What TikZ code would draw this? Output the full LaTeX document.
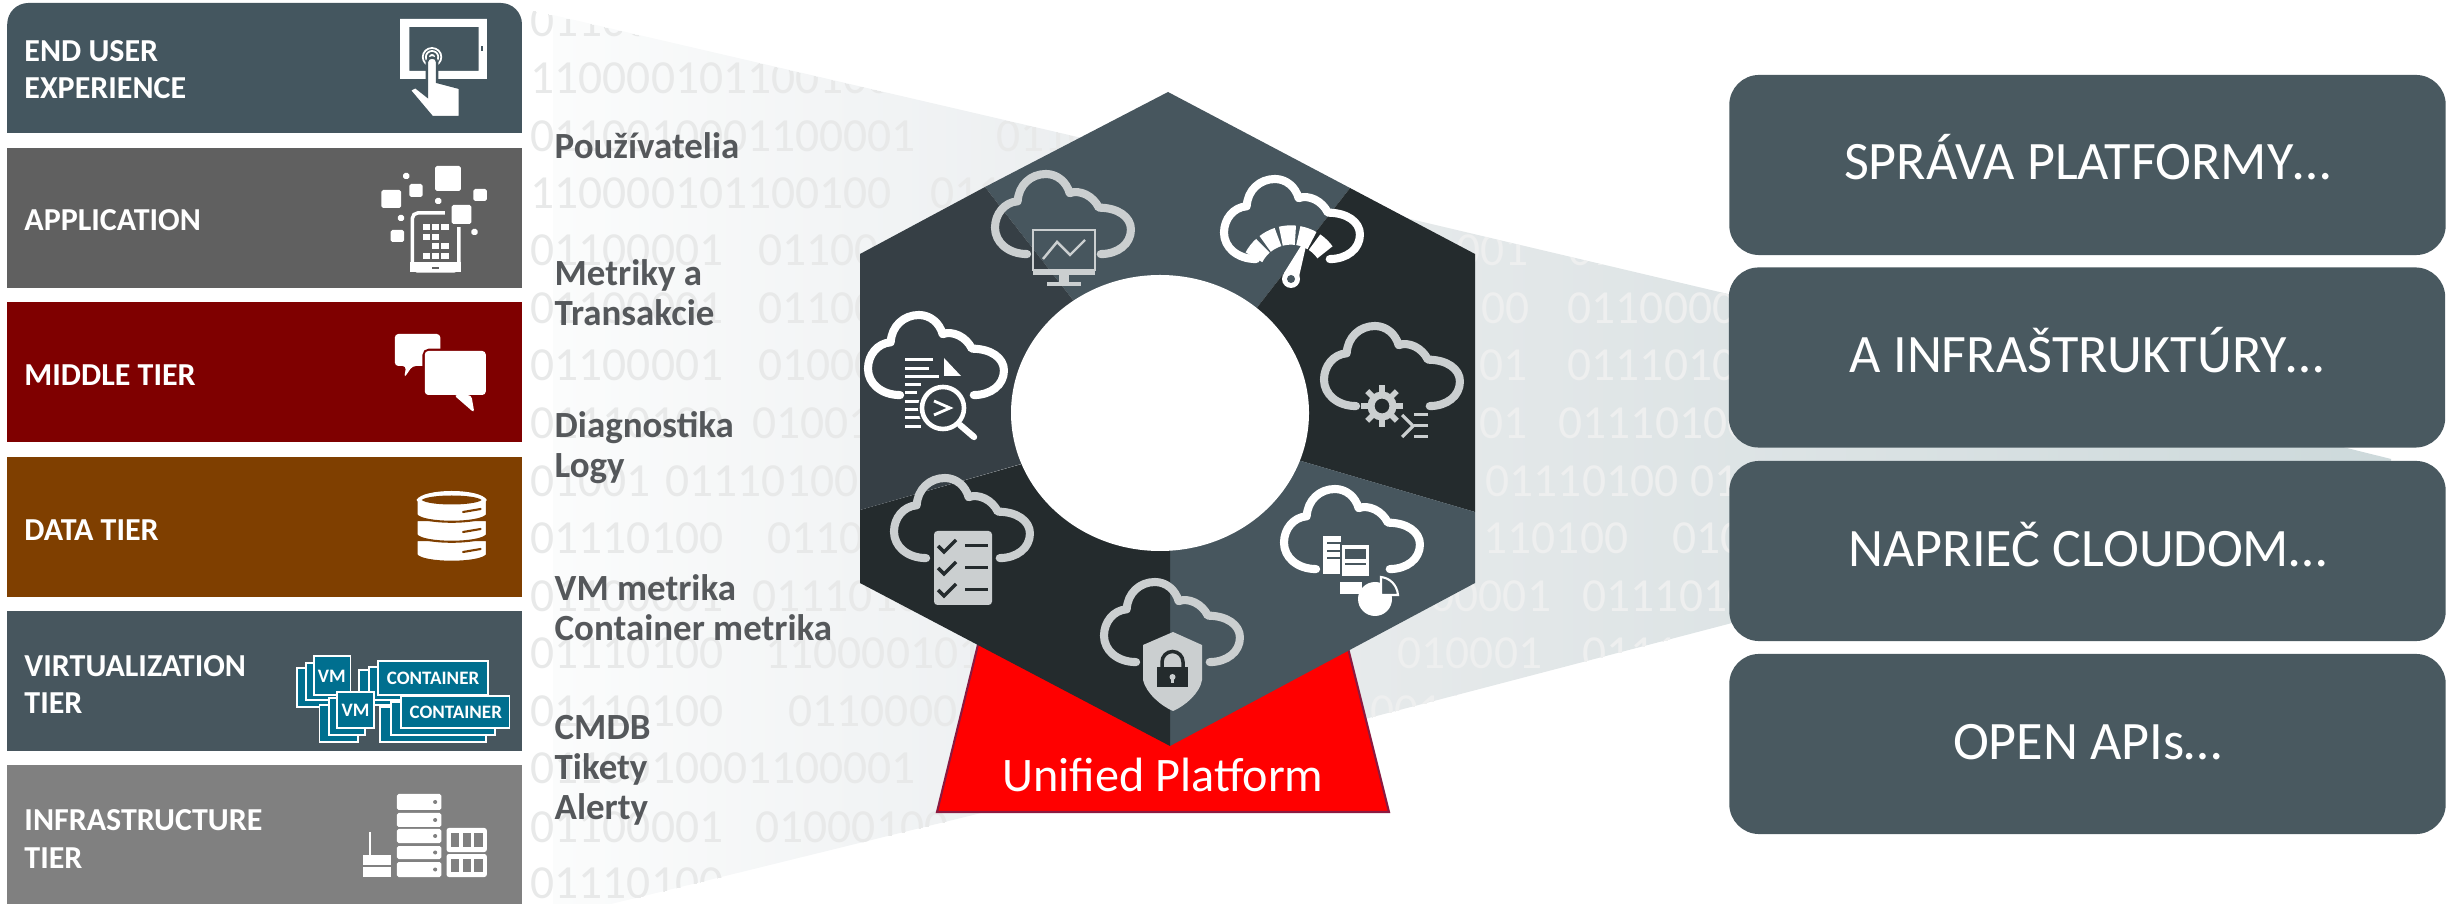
\documentclass[tikz,border=0pt]{standalone}
\usepackage{fontspec}
\setmainfont{Carlito}
\definecolor{barslate}{HTML}{44565F}
\definecolor{bargrey}{HTML}{606060}
\definecolor{barmaroon}{HTML}{7F0000}
\definecolor{barbrown}{HTML}{7F3F00}
\definecolor{barvirt}{HTML}{47565E}
\definecolor{barinfra}{HTML}{808080}
\definecolor{vmteal}{HTML}{006F8F}
\definecolor{hexslate}{HTML}{47565E}
\definecolor{hexmid}{HTML}{363F45}
\definecolor{hexdark}{HTML}{242B2D}
\definecolor{apibox}{HTML}{495960}
\definecolor{cloudgrey}{HTML}{CBCFD0}
\definecolor{labelgrey}{HTML}{55585B}
\definecolor{platformedge}{HTML}{8B1A40}
\definecolor{funnelleft}{HTML}{E9ECEE}
\definecolor{funnelfaint}{HTML}{FBFCFC}
\definecolor{funnelnear}{HTML}{E8EBEC}
\definecolor{funnelfar}{HTML}{CDD9DB}
\definecolor{digitleft}{HTML}{E8E9E9}
\definecolor{digitright}{HTML}{EEEFEF}
\tikzset{
    tierlabel/.style={anchor=base west, inner sep=0pt, align=left, text=white,
        font=\fontsize{9.1}{10.8}\selectfont\bfseries},
    sidelabel/.style={anchor=base west, inner sep=0pt, align=left, text=labelgrey,
        font=\fontsize{10.5}{11.4}\selectfont\bfseries},
    digits/.style={anchor=base west, inner sep=0pt, font=\fontsize{13.5}{16}\selectfont},
    apinode/.style={fill=apibox, text=white, rounded corners=8.5pt, minimum width=7.16cm,
        minimum height=1.80cm, inner sep=0pt, text height=4.5mm, text depth=1.5mm,
        font=\fontsize{15.4}{18}\selectfont},
    cloudline/.style={line width=2.3pt, line cap=round, line join=round},
    vmcard/.style={fill=vmteal, draw=white, line width=0.5pt},
    vmtext/.style={inner sep=0pt, text=white, font=\fontsize{5.4}{7}\selectfont\bfseries},
}
\newcommand{\cloudicon}[3]{%
    \draw[cloudline, draw=#3, shift={(#1+4,#2+4)}, xscale=0.944, yscale=0.91]
        (34,88) .. controls (14,88) and (0,75) .. (0,59)
        .. controls (0,44) and (10,31) .. (24,30) .. controls (25,12) and (38,0) .. (54,0)
        .. controls (66,0) and (76,9) .. (79,21) .. controls (90,17) and (104,24) .. (110,37)
        .. controls (130,37) and (144,47) .. (144,61) .. controls (144,77) and (130,88) .. (112,88);
}
\begin{document}
\begin{tikzpicture}[x=0.01cm, y=-0.01cm]
    \useasboundingbox (0,0) rectangle (2446,904);

    % Funnels behind the hexagon
    \shade[left color=funnelfaint, right color=funnelleft] (553,15) -- (1168,158) -- (1168,767) -- (640,897) -- (553,918) -- cycle;
    \shade[left color=funnelnear, right color=funnelfar] (1300,193) -- (1728,294) -- (2391,459) -- (2391,560) -- (1732,623) -- (1300,736) -- cycle;

    % Binary digits, cut off by the funnels
    \begin{scope}
        \clip (530,10) -- (1168,158) -- (1168,767) -- (640,897) -- (530,924) -- cycle
              (1300,193) -- (1728,294) -- (2391,459) -- (2391,560) -- (1732,623) -- (1300,736) -- cycle;
        \foreach \xd/\yd/\dg [count=\n] in {530/37/01100001,530/94/1100001011001000,
            530/152/0110010001100001,996/152/01100001,530/209/110000101100100,930/209/0110,
            530/266/01100001,758/266/01100,530/324/01100001,758/324/01100,
            530/381/01100001,758/381/01000,530/439/01110100,752/439/01001,
            530/497/01001,665/497/01110100,530/554/01110100,767/554/0110,
            530/612/01100001,752/612/0111010,530/669/01110100,765/669/1100001011,
            530/727/01110100,788/727/0110000,530/784/0110010001100001,
            530/842/01100001,755/842/01000100,530/899/01110100}{
            \node[digits, text=digitleft] (digl\n) at (\xd,\yd) {\dg};
        }
        \foreach \xd/\yd/\dg [count=\n] in {1456/266/001,1568/266/01100001,1481/324/00,1567/324/0110000111,
            1479/381/01,1567/381/01110100,1479/439/01,1558/439/01110100,1485/497/01110100,1690/497/01,
            1483/554/110100,1672/554/0100,1430/612/00001,1582/612/0111010,1397/669/010001,1582/669/01110,
            1370/727/00110}{
            \node[digits, text=digitright] (digr\n) at (\xd,\yd) {\dg};
        }
    \end{scope}

    \begin{scope}[x=0.01033cm]
    % Tier bars
    \fill[barslate] (7,133) [rounded corners=6pt] -- (7,3) -- (505,3) [sharp corners] -- (505,133) -- cycle;
    \fill[bargrey] (7,148) rectangle (505,288);
    \fill[barmaroon] (7,302) rectangle (505,442);
    \fill[barbrown] (7,457) rectangle (505,597);
    \fill[barvirt] (7,611) rectangle (505,751);
    \fill[barinfra] (7,765) rectangle (505,904);
    \node[tierlabel] (lblend) at (23,99) {END USER\\EXPERIENCE};
    \node[tierlabel] (lblapp) at (23,231) {APPLICATION};
    \node[tierlabel] (lblmid) at (23,386) {MIDDLE TIER};
    \node[tierlabel] (lbldata) at (23,541) {DATA TIER};
    \node[tierlabel] (lblvirt) at (23,714) {VIRTUALIZATION\\TIER};
    \node[tierlabel] (lblinfra) at (23,868) {INFRASTRUCTURE\\TIER};

    % Tablet and finger
    \fill[white, even odd rule] (387,19) rectangle (471,79) (396,27) rectangle (463,71);
    \fill[barslate] (465,46) rectangle (467,51);
    \draw[white, line width=0.5pt] (418,57) circle[radius=9] (418,57) circle[radius=6];
    \fill[white] (418,57) circle[radius=3];
    \fill[white, draw=barslate, line width=0.7pt] (396,90) -- (402,87) -- (413,96) -- (413,62) .. controls (413,56) and (423,56) .. (423,62) -- (423,82) -- (445,88) -- (445,117) -- (418,117) -- cycle;

    % Application squares
    \foreach \xa/\ya/\xb/\yb in {421/166/446/191,369/190/388/208,396/184/409/197,390/173/396/179,458/189/471/201,
        421/198/427/204,385/215/391/221,378/230/391/242,456/229/462/235}{
        \fill[white, rounded corners=0.5pt] (\xa,\ya) rectangle (\xb,\yb);
    }
    \draw[white, line width=1pt, rounded corners=1.5pt] (399,213) rectangle (444,271);
    \fill[white] (397,262) rectangle (446,272);
    \fill[bargrey] (418,267) rectangle (425,269);
    \fill[bargrey] (431,205) rectangle (458,227);
    \fill[white, rounded corners=0.5pt] (437,205) rectangle (456,224);
    \foreach \xa/\ya in {409/224,418/224,427/224,409/234,418/234,418/243,427/243,409/253,418/253,427/253}{
        \fill[white] (\xa,\ya) rectangle ++(7,6);
    }

    % Speech bubbles
    \fill[white, rounded corners=1pt] (382,334) -- (426,334) -- (426,366) -- (399,366) -- (391,378) -- (393,366) -- (382,366) -- cycle;
    \fill[white, draw=barmaroon, line width=0.8pt, rounded corners=1.5pt] (410,350) -- (471,350) -- (471,396) -- (440,396) -- (459,413) -- (455,396) -- (410,396) -- cycle;
    \fill[white, rounded corners=1pt] (411,351) -- (470,351) -- (470,395) -- (439,395) -- (459,413) -- (456,395) -- (411,395) -- cycle;

    % Database disks
    \foreach \ya/\yb in {540/555,520/535,500/515}{
        \filldraw[fill=white, draw=barbrown, line width=0.6pt] (403,\ya) -- (471,\ya) -- (471,\yb) .. controls (465,\yb+9) and (409,\yb+9) .. (403,\yb) -- cycle;
    }
    \fill[white] (403,500) .. controls (409,488) and (465,488) .. (471,500) .. controls (465,512) and (409,512) .. (403,500) -- cycle;
    \fill[barbrown] (408,500) .. controls (415,494) and (459,494) .. (466,500) .. controls (459,506) and (415,506) .. (408,500) -- cycle;
    \foreach \yd in {512,532,552}{
        \draw[barbrown, line width=0.6pt, line cap=round] (448,\yd) -- (465,\yd-3);
    }

    % VM and container stacks
    \foreach \xa/\ya/\xb/\yb in {287/668/320/707,296/663/330/700,304/656/339/695,347/670/393/705,357/667/400/700,366/661/472/695,
        309/705/346/742,318/698/353/735,326/692/362/728,368/707/470/742,378/702/479/735,388/696/493/728}{
        \filldraw[vmcard] (\xa,\ya) rectangle (\xb,\yb);
    }
    \node[vmtext] (vmone) at (321,676) {VM};
    \node[vmtext] (vmtwo) at (344,710) {VM};
    \node[vmtext] (ctone) at (419,678) {CONTAINER};
    \node[vmtext] (cttwo) at (441,712) {CONTAINER};

    % Servers
    \foreach \ya/\yb in {794/810,813/827,829/843,846/859,862/877}{
        \fill[white, rounded corners=0.5pt] (384,\ya) rectangle (427,\yb);
        \fill[barinfra] (421,\ya/2+\yb/2) circle[radius=2];
    }
    \foreach \ya/\yb in {828/852,854/877}{
        \fill[white, rounded corners=0.7pt] (432,\ya) rectangle (471,\yb);
        \foreach \xa in {436,448,459}{
            \fill[barinfra] (\xa,\ya+5) rectangle ++(8,\yb-\ya-10);
        }
    }
    \fill[white] (357,832) rectangle (359,855);
    \fill[white] (351,855) rectangle (378,865);
    \fill[white] (351,867) rectangle (378,877);
    \end{scope}

    % Side labels
    \node[sidelabel] (lblusers) at (554,159) {Používatelia};
    \node[sidelabel] (lblmetrics) at (554,326) {Metriky a\\Transakcie};
    \node[sidelabel] (lbldiag) at (554,478) {Diagnostika\\Logy};
    \node[sidelabel] (lblvm) at (554,641) {VM metrika\\Container metrika};
    \node[sidelabel] (lblcmdb) at (554,820) {CMDB\\Tikety\\Alerty};

    % Red platform base
    \filldraw[fill=red, draw=platformedge, line width=0.6pt] (937,812) -- (984,620) -- (1341,620) -- (1389,812) -- cycle;
    \node[text=white, font=\fontsize{13.7}{16}\selectfont, inner sep=0pt] (platform) at (1163,775) {Unified Platform};

    % Hexagon sectors
    \fill[hexslate] (1168,422) -- (985,187) -- (1168,92) -- (1350,188) -- cycle;
    \fill[hexdark] (1168,422) -- (1350,188) -- (1475,254) -- (1475,512) -- cycle;
    \fill[hexslate] (1168,422) -- (1475,512) -- (1475,583) -- (1170,746) -- (1170,422) -- cycle;
    \fill[hexdark] (1170,422) -- (1170,746) -- (860,583) -- (860,510) -- cycle;
    \fill[hexmid] (1168,422) -- (860,510) -- (860,254) -- (985,187) -- cycle;
    \fill[white] (1160,413) ellipse[x radius=149, y radius=138];

    % Cloud with monitor
    \cloudicon{991}{170}{cloudgrey}
    \begin{scope}[shift={(991,170)}]
        \draw[cloudgrey, line width=0.8pt] (42,60) rectangle (104,100);
        \fill[cloudgrey] (42,100) rectangle (104,105);
        \fill[cloudgrey] (68,105) rectangle (78,112);
        \fill[cloudgrey] (56,112) rectangle (90,116);
        \draw[cloudgrey, line width=0.7pt] (52,89) -- (66,72) -- (79,85) -- (94,70);
    \end{scope}

    % Cloud with gauge
    \cloudicon{1220}{175}{white}
    \begin{scope}[shift={(1220,175)}]
        \foreach \a in {-152,-128,-104,-80,-56}{
            \draw[white, line width=5.5pt] (71,102) ++(\a:42) arc[start angle=\a, end angle=\a+20, radius=42];
        }
        \fill[white] (64,98) -- (78,106) -- (89,58) -- cycle;
        \fill[white] (71,104) circle[radius=9];
        \fill[hexslate] (71,104) circle[radius=4];
    \end{scope}

    % Cloud with log and magnifier
    \cloudicon{864}{311}{white}
    \begin{scope}[shift={(864,311)}]
        \foreach \yd/\wd in {47/28,56/24,64/34,72/16,80/12,89/16,97/16,105/16,114/16}{
            \fill[white] (41,\yd) rectangle ++(\wd,3.5);
        }
        \fill[white] (80,47) -- (80,65) -- (97,65) -- cycle;
        \fill[hexmid] (79,97) circle[radius=25];
        \draw[white, line width=1.3pt] (79,97) circle[radius=21];
        \draw[white, line width=0.8pt] (70,90) -- (86,97) -- (70,104);
        \draw[white, line width=1.8pt, line cap=round] (96,114) -- (110,126);
    \end{scope}

    % Cloud with gear and prompt
    \cloudicon{1320}{322}{cloudgrey}
    \begin{scope}[shift={(1320,322)}]
        \foreach \a in {0,45,...,315}{
            \draw[cloudgrey, line width=1.6pt] (62,84) ++(\a:11) -- ++(\a:10);
        }
        \draw[cloudgrey, line width=2pt] (62,84) circle[radius=11];
        \draw[cloudgrey, line width=0.9pt] (82,93) -- (93,104) -- (82,115);
        \foreach \yd in {93,104,115}{
            \fill[cloudgrey] (94,\yd-1.5) rectangle (108,\yd+1.5);
        }
    \end{scope}

    % Cloud with checklist
    \cloudicon{890}{474}{cloudgrey}
    \begin{scope}[shift={(890,474)}]
        \fill[cloudgrey, rounded corners=1pt] (44,57) rectangle (102,131);
        \foreach \yd in {72,94,116}{
            \draw[hexdark, line width=1pt] (48,\yd) -- (54,\yd+6) -- (66,\yd-6);
            \fill[hexdark] (75,\yd-1.5) rectangle (98,\yd+1.5);
        }
    \end{scope}

    % Cloud with devices and pie
    \cloudicon{1280}{485}{white}
    \begin{scope}[shift={(1280,485)}]
        \fill[white] (43,51) rectangle (61,89);
        \foreach \yd in {57,65,72}{
            \fill[hexslate] (47,\yd) rectangle (61,\yd+2);
        }
        \fill[white, draw=hexslate, line width=0.4pt] (61,59) rectangle (90,92);
        \fill[hexslate] (65,64) rectangle (86,74);
        \fill[hexslate] (65,78) rectangle (86,80);
        \fill[white] (60,97) rectangle (82,109);
        \fill[white] (95,114) circle[radius=17];
        \draw[white, line width=0.6pt, fill=hexslate] (101,92) -- (101,110) -- (118,110) .. controls (117,100) and (110,93) .. (101,92) -- cycle;
    \end{scope}

    % Cloud with shield and lock
    \cloudicon{1100}{578}{cloudgrey}
    \begin{scope}[shift={(1100,578)}]
        \fill[cloudgrey] (73,54) -- (102,67) -- (102,102) .. controls (100,115) and (85,128) .. (73,133) .. controls (61,128) and (46,115) .. (43,102) -- (43,67) -- cycle;
        \fill[hexdark] (57,89) rectangle (88,109);
        \draw[hexdark, line width=1pt] (62,89) -- (62,84) arc[start angle=180, end angle=360, radius=10.5] -- (83,89);
        \fill[cloudgrey] (72.5,99) circle[radius=3];
        \fill[cloudgrey] (71,99) rectangle (74,105);
    \end{scope}

    % Right-hand boxes
    \node[apinode] (boxplatform) at (2087.5,165) {SPRÁVA PLATFORMY…};
    \node[apinode] (boxinfra) at (2087,357.5) {A INFRAŠTRUKTÚRY…};
    \node[apinode] (boxcloud) at (2087.5,551) {NAPRIEČ CLOUDOM…};
    \node[apinode] (boxapis) at (2087.5,744) {OPEN APIs…};
\end{tikzpicture}
\end{document}
